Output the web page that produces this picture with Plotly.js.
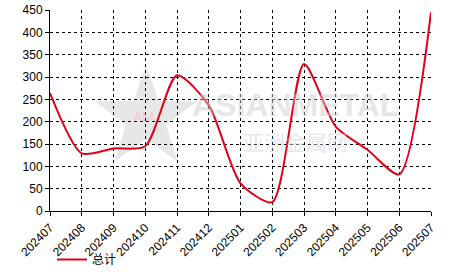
<!DOCTYPE html>
<html><head><meta charset="utf-8">
<script src="https://cdn.plot.ly/plotly-3.0.1.min.js"></script>
<style>html,body{margin:0;padding:0;background:#fff}#c{width:466px;height:272px}</style>
</head><body><div id="c"></div>
<script>
const months = ["202407","202408","202409","202410","202411","202412","202501","202502","202503","202504","202505","202506","202507"];
const totals = [264,129,140,145,304,237,62,20,329,189,137,82,445];
const seriesName = "总计";
const yTicks = [0,50,100,150,200,250,300,350,400,450];

const W = 466, H = 272, L = 50, R = 35, T = 10, B = 61;
function px(x){return (x-L)/(W-L-R);}
function py(y){return 1-(y-T)/(H-T-B);}
// watermark star (paper coords)
const cx=146, cy=118, ro=54, ri=21;
let pts=[];
for(let i=0;i<10;i++){const a=-Math.PI/2+i*Math.PI/5;const r=i%2?ri:ro;pts.push([cx+r*Math.cos(a), cy+r*Math.sin(a)]);}
const starPath = pts.map((p,i)=>(i?'L':'M')+px(p[0]).toFixed(4)+','+py(p[1]).toFixed(4)).join(' ')+' Z';

const data = [{
  x: months, y: totals, type: 'scatter', mode: 'lines', name: seriesName,
  line: {color: '#e0001b', width: 2, shape: 'spline', smoothing: 0.7}
}];
const layout = {
  width: W, height: H, margin: {l: L, r: R, t: T, b: B, pad: 0},
  paper_bgcolor: '#fff', plot_bgcolor: '#fff',
  font: {family: 'Liberation Sans, Arial, sans-serif', size: 12, color: '#000'},
  showlegend: true,
  legend: {orientation: 'h', xref: 'container', yref: 'container', x: 52/W, y: 1-245/H, xanchor: 'left', yanchor: 'top',
    itemwidth: 30, font: {size: 12, family: 'Noto Sans CJK SC, sans-serif', color:'#000'}, bgcolor: 'rgba(0,0,0,0)'},
  xaxis: {type: 'category', range: [0, months.length-1], showgrid: true, gridcolor: '#000', griddash: 'dot', gridwidth: 1,
    showline: true, linecolor: '#000', linewidth: 1, ticks: 'outside', ticklen: 4, tickcolor: '#000',
    tickangle: -45, automargin: false, zeroline: false, fixedrange: true},
  yaxis: {range: [0, 450], tickvals: yTicks, showgrid: true, gridcolor: '#000', griddash: 'dot', gridwidth: 1,
    showline: true, linecolor: '#000', linewidth: 1, ticks: 'outside', ticklen: 4, tickcolor: '#000',
    automargin: false, zeroline: false, fixedrange: true},
  shapes: [{type: 'path', xref: 'paper', yref: 'paper', path: starPath, fillcolor: 'rgba(195,195,195,0.4)', line: {width: 0}, layer: 'below'}],
  annotations: [
    {xref:'paper', yref:'paper', x: px(295), y: py(105), text: '<b>ASIANMETAL</b>', showarrow: false,
      font: {family: 'Liberation Sans, Arial', size: 32, color: 'rgba(205,205,205,0.5)'}, xanchor:'center', yanchor:'middle'},
    {xref:'paper', yref:'paper', x: px(295), y: py(141), text: '亚洲金属网', showarrow: false,
      font: {family: 'Noto Sans CJK SC', size: 21, color: 'rgba(205,205,205,0.5)'}, xanchor:'center', yanchor:'middle'},
    {xref:'paper', yref:'paper', x: px(143), y: py(117), text: 'AM', showarrow: false,
      font: {family: 'Liberation Sans, Arial', size: 14, color: 'rgba(235,150,150,0.35)'}, xanchor:'center', yanchor:'middle'}
  ]
};
Plotly.newPlot('c', data, layout, {displayModeBar: false, staticPlot: true});
</script></body></html>
